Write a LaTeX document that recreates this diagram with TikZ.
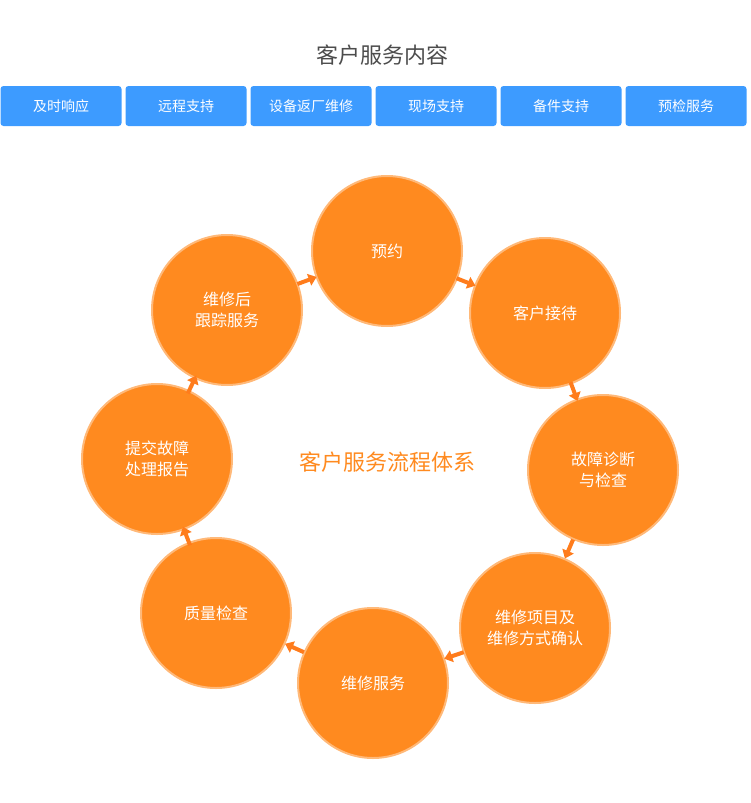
\documentclass[tikz,border=0pt]{standalone}
\usepackage{fontspec}
\setmainfont{Noto Sans CJK SC}
\usetikzlibrary{calc}
\usetikzlibrary{arrows.meta}
\definecolor{svcorange}{HTML}{FF8A1F}
\definecolor{svcblue}{HTML}{3D9BFF}
\begin{document}
\begin{tikzpicture}[
            x = 1pt, y = -1pt,
            every node/.style = {inner sep = 0pt},
            tab/.style = {fill = svcblue, rounded corners = 3pt, minimum width = 121pt,
                          minimum height = 40pt, text = white, font = \fontsize{14}{16}\selectfont},
            stage/.style = {circle, fill = svcorange, draw = svcorange!60, line width = 2pt,
                            minimum size = 150pt, text = white, align = center,
                            font = \fontsize{16}{21}\selectfont},
            flow/.style = {-{Triangle[length=8pt,width=12pt]}, line width = 4pt, svcorange!90!red}
        ]
        \useasboundingbox (0,0) rectangle (751,803);

	% TITLE AND SERVICE TABS
        \node (title) at (382,55) {\fontsize{22}{26}\selectfont\color{black!70}客户服务内容};
        \node[tab] (T1) at (61,106) {及时响应};
        \node[tab] (T2) at (186,106) {远程支持};
        \node[tab] (T3) at (311,106) {设备返厂维修};
        \node[tab] (T4) at (436,106) {现场支持};
        \node[tab] (T5) at (561,106) {备件支持};
        \node[tab] (T6) at (686,106) {预检服务};

	% SERVICE CYCLE
        \node[stage] (S1) at (387,251) {预约};
        \node[stage] (S2) at (545,313) {客户接待};
        \node[stage] (S3) at (603,470) {故障诊断\\与检查};
        \node[stage] (S4) at (535,628) {维修项目及\\维修方式确认};
        \node[stage] (S5) at (373,683) {维修服务};
        \node[stage] (S6) at (216,613) {质量检查};
        \node[stage] (S7) at (157,459) {提交故障\\处理报告};
        \node[stage] (S8) at (227,310) {维修后\\跟踪服务};
        \node (center) at (387,462) {\fontsize{22}{26}\selectfont\color{svcorange}客户服务流程体系};

        \foreach \a/\b in {S1/S2, S2/S3, S3/S4, S4/S5, S5/S6, S6/S7, S7/S8, S8/S1}
            \draw[flow] ($(\a)!0.44!(\b)$) -- ($(\a)!0.56!(\b)$);
  \end{tikzpicture}
\end{document}
